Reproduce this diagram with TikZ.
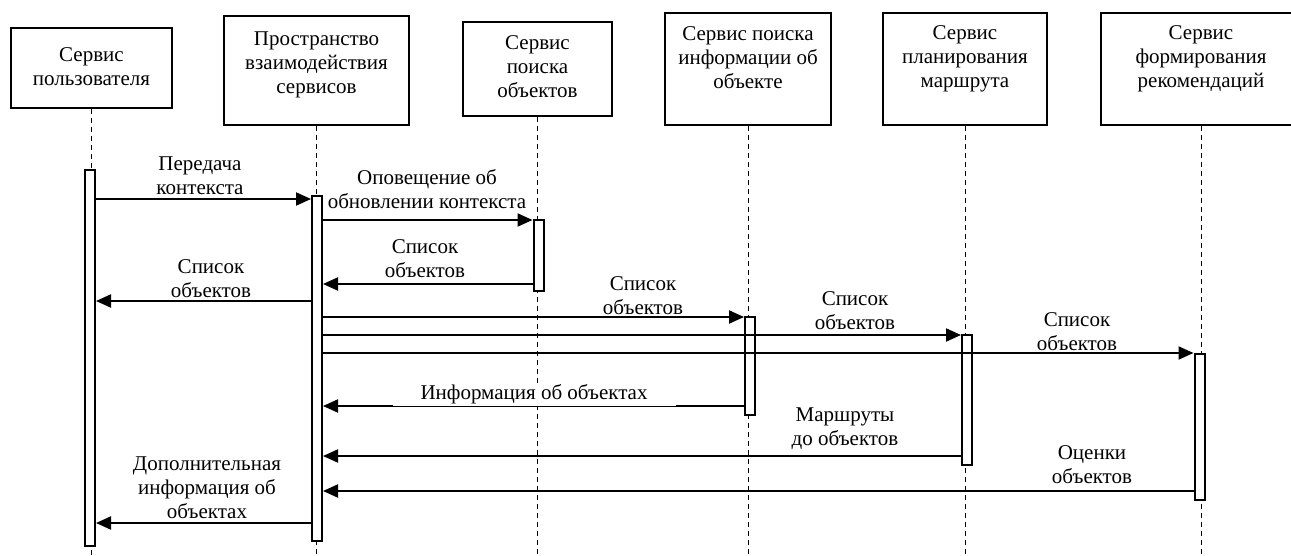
\documentclass[tikz,border=0pt]{standalone}
\usepackage{fontspec}
\setmainfont{Liberation Serif}
\usetikzlibrary{arrows.meta}
\begin{document}
\begin{tikzpicture}[x=1pt,y=-1pt,
  box/.style={draw, line width=2pt, inner sep=0pt},
  txt/.style={align=center, inner sep=0pt, font=\fontsize{21}{24}\selectfont},
  act/.style={draw, line width=2pt, fill=white, minimum width=10pt, inner sep=0pt},
  life/.style={line width=0.9pt, dash pattern=on 5pt off 4pt},
  msg/.style={line width=2pt, -{Triangle[length=15pt,width=13pt]}},
]
\useasboundingbox (0,0) rectangle (1291,556);
\clip (0,0) rectangle (1291,556);
\coordinate (bot) at (0,556);

% participant heads
\node[box, minimum width=161pt, minimum height=80pt]  (b1) at (91.5,68)  {};
\node[box, minimum width=185pt, minimum height=109pt] (b2) at (316.5,70.5) {};
\node[box, minimum width=149pt, minimum height=94pt]  (b3) at (537.5,69)  {};
\node[box, minimum width=166pt, minimum height=112pt] (b4) at (748,69)  {};
\node[box, minimum width=164pt, minimum height=112pt] (b5) at (965,69)  {};
\node[box, minimum width=200pt, minimum height=112pt] (b6) at (1201,69) {};

\node[txt] (t1) at (91.5,67)  {Сервис\\пользователя};
\node[txt] (t2) at (316.5,65) {Пространство\\взаимодействия\\сервисов};
\node[txt] (t3) at (537.5,67) {Сервис\\поиска\\объектов};
\node[txt] (t4) at (748,58)   {Сервис поиска\\информации об\\объекте};
\node[txt] (t5) at (965,59)   {Сервис\\планирования\\маршрута};
\node[txt] (t6) at (1201,59)  {Сервис\\формирования\\рекомендаций};

% lifelines
\foreach \b in {b1,b2,b3,b4,b5,b6}
  \draw[life] (\b.south) -- (\b.south |- bot);

% activation bars
\node[act, minimum height=376pt] (a1) at (90,358)    {};
\node[act, minimum height=345pt] (a2) at (317,368.5) {};
\node[act, minimum height=71pt]  (a3) at (538.5,255.5) {};
\node[act, minimum height=98pt]  (a4) at (750,366)   {};
\node[act, minimum height=130pt] (a5) at (967,400)   {};
\node[act, minimum height=146pt] (a6) at (1199.5,427) {};

% message levels
\coordinate (m1) at (0,199);
\coordinate (m2) at (0,220);
\coordinate (m3) at (0,284);
\coordinate (m4) at (0,301);
\coordinate (m5) at (0,317);
\coordinate (m6) at (0,335);
\coordinate (m7) at (0,353);
\coordinate (m8) at (0,406);
\coordinate (m9) at (0,456);
\coordinate (m10) at (0,491);
\coordinate (m11) at (0,523);

% messages
\draw[msg] (a1.east |- m1) -- (a2.west |- m1);
\draw[msg] (a2.east |- m2) -- (a3.west |- m2);
\draw[msg] (a3.west |- m3) -- (a2.east |- m3);
\draw[msg] (a2.west |- m4) -- (a1.east |- m4);
\draw[msg] (a2.east |- m5) -- (a4.west |- m5);
\draw[msg] (a2.east |- m6) -- (a5.west |- m6);
\draw[msg] (a2.east |- m7) -- (a6.west |- m7);
\draw[msg] (a4.west |- m8) -- (a2.east |- m8);
\draw[msg] (a5.west |- m9) -- (a2.east |- m9);
\draw[msg] (a6.west |- m10) -- (a2.east |- m10);
\draw[msg] (a2.west |- m11) -- (a1.east |- m11);

% message labels
\node[txt] (l1) at (200,176) {Передача\\контекста};
\node[txt] (l2) at (427,189) {Оповещение об\\обновлении контекста};
\node[txt] (l3) at (425,259) {Список\\объектов};
\node[txt] (l4) at (211,279) {Список\\объектов};
\node[txt] (l5) at (643,296) {Список\\объектов};
\node[txt] (l6) at (855,311) {Список\\объектов};
\node[txt] (l7) at (1077,332) {Список\\объектов};
\node[txt, fill=white, inner xsep=28pt, inner ysep=1.5pt, anchor=south] (l8) at (534,406) {Информация об объектах};
\node[txt] (l9) at (845,429) {Маршруты\\до объектов};
\node[txt] (l10) at (1092,465) {Оценки\\объектов};
\node[txt] (l11) at (207,488) {Дополнительная\\информация об\\объектах};
\end{tikzpicture}
\end{document}
